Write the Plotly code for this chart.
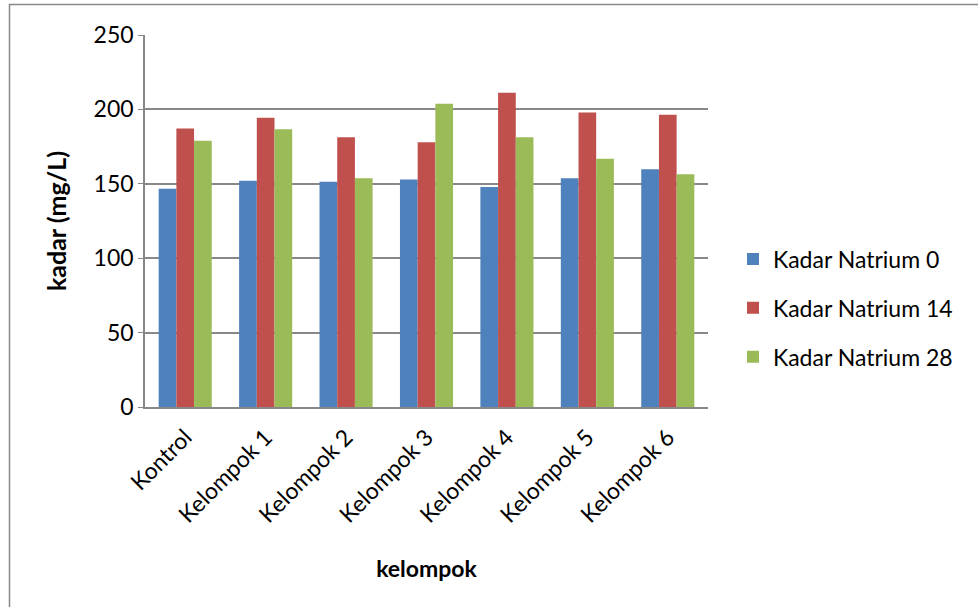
import plotly.graph_objects as go

categories = ["Kontrol", "Kelompok 1", "Kelompok 2", "Kelompok 3", "Kelompok 4", "Kelompok 5", "Kelompok 6"]
natrium_0 = [146.6, 152.0, 151.3, 152.9, 147.8, 153.8, 159.7]
natrium_14 = [187.1, 194.4, 181.2, 177.9, 211.2, 198.0, 196.4]
natrium_28 = [179.0, 186.6, 153.8, 203.8, 181.2, 166.9, 156.5]
series_names = ["Kadar Natrium 0", "Kadar Natrium 14", "Kadar Natrium 28"]
colors = ["#4F81BD", "#C0504D", "#9BBB59"]
y_ticks = [0, 50, 100, 150, 200, 250]

fig = go.Figure()
for i, (name, vals) in enumerate(zip(series_names, [natrium_0, natrium_14, natrium_28])):
    fig.add_trace(go.Bar(x=categories, y=vals, name=name, marker_color=colors[i],
                         marker_line_width=0, legendgroup=name))

FONT = "Lato, Calibri, Carlito, sans-serif"
L, R, T, B = 145, 270, 35, 200
W, H = 978, 607
pw = W - L - R
ph = H - T - B

fig.update_layout(
    width=W, height=H,
    margin=dict(l=L, r=R, t=T, b=B),
    paper_bgcolor="white", plot_bgcolor="white",
    barmode="group", bargap=0.34, bargroupgap=0,
    font=dict(family=FONT, size=22, color="black"),
    legend=dict(x=(733 - L) / pw, y=(407 - 308) / ph, xanchor="left", yanchor="middle",
                font=dict(size=23), tracegroupgap=16, itemwidth=30, bgcolor="rgba(0,0,0,0)"),
    xaxis=dict(showline=True, linecolor="#888888", linewidth=1.5, tickangle=-45,
               ticks="", tickfont=dict(size=23), ticklabelstandoff=6,
               title=dict(text="<b>kelompok</b>", font=dict(size=23), standoff=34)),
    yaxis=dict(range=[0, 250], tickvals=y_ticks, showline=True, linecolor="#888888", linewidth=1.5,
               gridcolor="#888888", gridwidth=1.5, ticks="outside", ticklen=5, tickcolor="#888888",
               zeroline=False, tickfont=dict(size=23),
               title=dict(text="<b>kadar (mg/L)</b>", font=dict(size=25), standoff=20)),
    shapes=[dict(type="rect", xref="paper", yref="paper",
                 x0=(9.5 - L) / pw, x1=(W + 10 - L) / pw,
                 y0=(407 - (H + 10)) / ph, y1=(407 - 4.5) / ph,
                 line=dict(color="#888888", width=1.5), fillcolor="rgba(0,0,0,0)", layer="below")],
)

fig.write_html("out.html")
